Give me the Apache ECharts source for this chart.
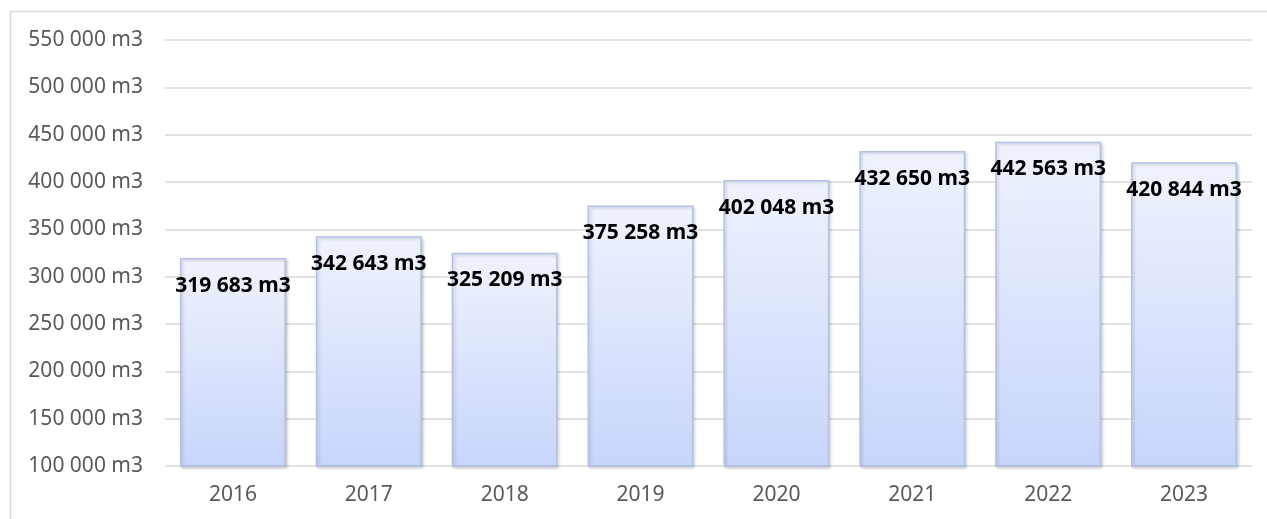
<!DOCTYPE html>
<html>
<head>
<meta charset="utf-8">
<title>m3 per year</title>
<script src="https://cdn.jsdelivr.net/npm/echarts@6/dist/echarts.min.js"></script>
<style>
  html, body { margin: 0; padding: 0; background: #fff; }
  #chart { width: 1267px; height: 519px; }
</style>
</head>
<body>
<div id="chart"></div>
<script>
const years = ['2016', '2017', '2018', '2019', '2020', '2021', '2022', '2023']
const volumes = [319683, 342643, 325209, 375258, 402048, 432650, 442563, 420844]
const yMin = 100000
const yMax = 550000
const yStep = 50000

// 319683 -> "319 683 m3"
function fmtM3(v) {
  return String(v).replace(/\B(?=(\d{3})+(?!\d))/g, ' ') + ' m3'
}

const chart = echarts.init(document.getElementById('chart'))
chart.setOption({
  animation: false,
  textStyle: { fontFamily: 'Noto Sans' },
  graphic: [
    {
      type: 'rect',
      shape: { x: 10.5, y: 11.5, width: 1400, height: 600 },
      style: { fill: 'none', stroke: '#d9d9d9', lineWidth: 1.5 },
      silent: true,
    },
  ],
  grid: { left: 165, right: 15, top: 40, bottom: 53 },
  xAxis: {
    type: 'category',
    data: years,
    axisLine: { show: false },
    axisTick: { show: false },
    axisLabel: { color: '#595959', fontSize: 21, margin: 19 },
  },
  yAxis: {
    type: 'value',
    min: yMin,
    max: yMax,
    interval: yStep,
    axisLine: { show: false },
    axisTick: { show: false },
    splitLine: { lineStyle: { color: '#d9d9d9', width: 1.5 } },
    axisLabel: {
      color: '#595959',
      fontSize: 21,
      margin: 22,
      formatter: v => fmtM3(v),
    },
  },
  series: [
    {
      type: 'bar',
      data: volumes,
      barCategoryGap: '22%',
      itemStyle: {
        color: new echarts.graphic.LinearGradient(0, 0, 0, 1, [
          { offset: 0, color: '#eff3fd' },
          { offset: 1, color: '#c8d5fb' },
        ]),
        borderColor: '#b3c0e3',
        borderWidth: 1.5,
        shadowColor: 'rgba(0,0,0,0.18)',
        shadowBlur: 3,
        shadowOffsetX: 1.5,
        shadowOffsetY: 1.5,
      },
      label: {
        show: true,
        position: 'insideTop',
        distance: 17,
        color: '#000',
        fontWeight: 'bold',
        fontSize: 21,
        formatter: p => fmtM3(p.value),
      },
    },
  ],
})
</script>
</body>
</html>
